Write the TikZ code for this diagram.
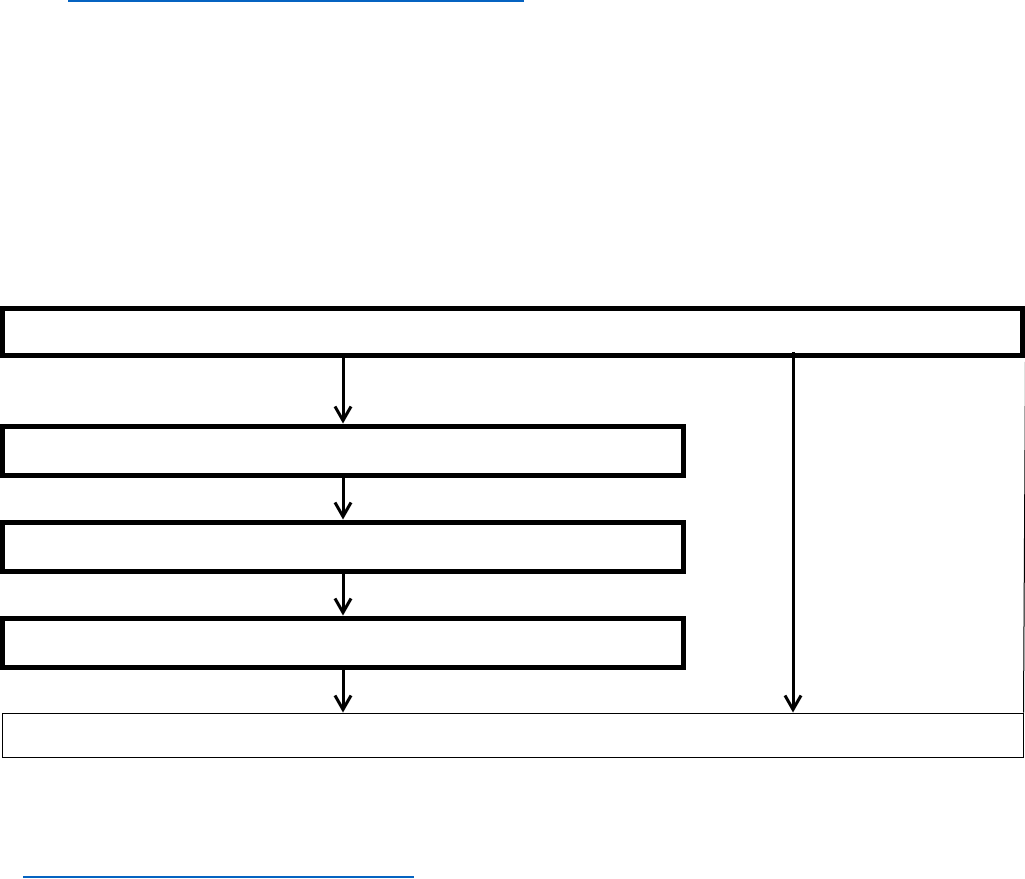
\documentclass[tikz,border=0pt]{standalone}
\usetikzlibrary{arrows.meta}
\definecolor{linkblue}{HTML}{0563C1}
\begin{document}
\begin{tikzpicture}[x=1pt,y=-1pt,
  thickbox/.style={draw=black,line width=5pt,inner sep=0pt,minimum height=47pt,anchor=center},
  thinbox/.style={draw=black,line width=1pt,inner sep=0pt},
  flow/.style={line width=3pt,-{Straight Barb[length=14pt,width=16pt,line width=3pt]}},
  linkline/.style={draw=linkblue,line width=2pt}]
\useasboundingbox (0,0) rectangle (1025,878);
\node[thickbox,minimum width=1020pt,minimum height=47pt] (top) at (512.5,331.5) {};
\node[thickbox,minimum width=681pt,minimum height=49pt] (b1) at (343,450.5) {};
\node[thickbox,minimum width=681pt,minimum height=49pt] (b2) at (343,546.5) {};
\node[thickbox,minimum width=681pt,minimum height=49pt] (b3) at (343,642.5) {};
\node[thinbox,minimum width=1020.5pt,minimum height=44pt] (bot) at (512.75,735) {};
\draw[flow] (top.south -| b1.south) ++(0,-3) -- (b1.north);
\draw[flow] (b1.south) ++(0,-4) -- (b2.north);
\draw[flow] (b2.south) ++(0,-4) -- (b3.north);
\draw[flow] (b3.south) ++(0,-4) -- (bot.north -| b3.south);
\coordinate (rtop) at (793,352);
\draw[flow] (rtop) -- (bot.north -| rtop);
\draw[line width=1pt] (top.south east) ++(0.5,2) -- (bot.north east);
\draw[linkline] (68,1) -- (524,1);
\draw[linkline] (23,877) -- (414,877);
\end{tikzpicture}
\end{document}
